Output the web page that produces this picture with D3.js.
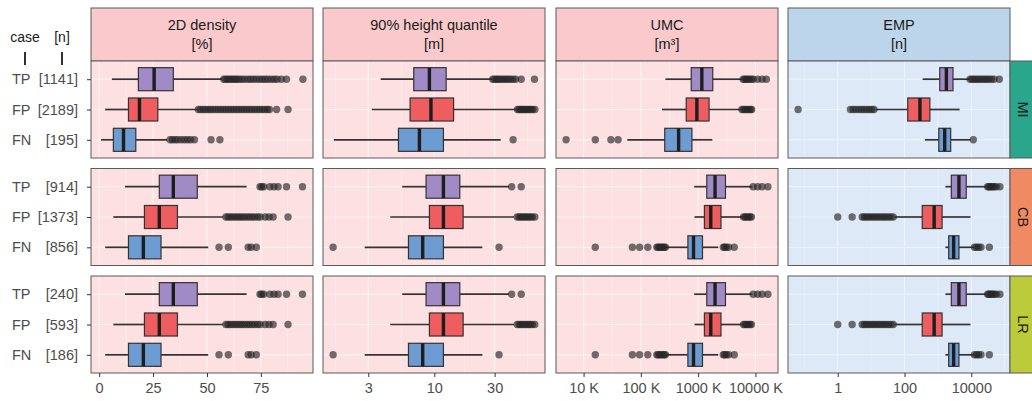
<!DOCTYPE html>
<html lang="en">
<head>
<meta charset="UTF-8">
<title>Detection metrics</title>
<script src="https://cdn.jsdelivr.net/npm/d3@7"></script>
<style>
    body { margin: 0; background: #fff; }
    svg text { font-family: "Liberation Sans", Arial, sans-serif; }
    .tick-label { font-size: 14.5px; fill: #4d4d4d; }
    .strip-label { font-size: 14.5px; fill: #1a1a1a; }
</style>
</head>
<body>
<svg id="chart" width="1032" height="401"></svg>
<script>
// facets and cases
const groups = ["MI", "CB", "LR"]
const cases = ["TP", "FP", "FN"]
const nMI = [1141, 2189, 195]
const nCB = [914, 1373, 856]
const nLR = [240, 593, 186]
const metrics = ["2D density", "90% height quantile", "UMC", "EMP"]
const units = ["[%]", "[m]", "[m³]", "[n]"]

// box stats per case (TP, FP, FN): [lower whisker, q1, median, q3, upper whisker]
// 2D density [%]
const densityMI = [[5.9, 18.2, 25.5, 34.4, 57], [2.8, 13.6, 18.7, 27.2, 45.5], [0.9, 6.6, 11.3, 17, 31.5]]
const densityMIOut = [
    [57.8, 58.6, 59.5, 60.4, 61.3, 62.2, 63.1, 64, 65, 66.2, 67.5, 69, 70.3, 71.6, 73, 74.4, 75.7, 77, 78.3, 79.8, 81.2, 82.5, 84.5, 86.9, 94.5],
    [46, 47, 48.2, 49.3, 50.5, 51.6, 52.8, 54, 55.2, 56.4, 57.6, 58.8, 60, 61.2, 62.4, 63.6, 64.8, 66, 67.2, 68.4, 69.6, 70.8, 72, 73.2, 74.4, 75.6, 76.8, 78, 79, 82.3, 87.6],
    [32.9, 34, 35.2, 36.4, 38, 39.5, 41, 42.4, 44.2, 51.9, 56]
]
const densityCB = [[12, 27.9, 34.4, 45.5, 68.4], [6.6, 21, 27.9, 36.3, 57.6], [2.8, 13.6, 20.5, 28.7, 50.6]]
const densityCBOut = [
    [74.6, 75.4, 76.3, 79.2, 81.1, 83, 86.9, 94.3],
    [58.8, 59.8, 60.8, 61.9, 63, 64.1, 65.2, 66.3, 67.4, 68.6, 69.8, 71, 72.2, 73.5, 74.7, 77, 78.8, 80.7, 87.6],
    [55.6, 59.9, 69.1, 70.5, 72.9]
]
const densityLR = [[12, 27.9, 34.4, 45.5, 68.4], [6.6, 21, 27.9, 36.3, 57.6], [2.8, 13.6, 20.5, 28.7, 50.6]]
const densityLROut = [
    [74.6, 75.4, 76.3, 79.2, 81.1, 83, 86.9, 94.3],
    [58.8, 59.8, 60.8, 61.9, 63, 64.1, 65.2, 66.3, 67.4, 68.6, 69.8, 71, 72.2, 73.5, 74.7, 77, 78.8, 80.7, 87.6],
    [55.6, 59.9, 69.1, 70.5, 72.9]
]

// 90% height quantile [m]
const heightMI = [[3.76, 6.87, 9.14, 12.4, 28.6], [3.2, 6.43, 9.4, 14.2, 45], [1.6, 5.2, 7.62, 11.8, 33.5]]
const heightMIOut = [
    [29, 30, 31, 32, 33.2, 34.5, 35.8, 37.2, 38.6, 40.2, 42, 44, 48.7, 62],
    [45.5, 46.8, 48, 49.3, 50.6, 52, 53.5, 55, 56.6, 58.2, 60, 62.5],
    [42]
]
const heightCB = [[5.57, 8.6, 11.8, 15.9, 39], [4.48, 9.14, 11.8, 16.9, 42.7], [2.81, 6.24, 8.09, 11.8, 24]]
const heightCBOut = [
    [40.9, 48.7],
    [45.3, 46.8, 48.3, 50, 51.8, 53.6, 55.5, 57.5, 59.6, 62.4],
    [1.58, 32.5]
]
const heightLR = [[5.57, 8.6, 11.8, 15.9, 39], [4.48, 9.14, 11.8, 16.9, 42.7], [2.81, 6.24, 8.09, 11.8, 24]]
const heightLROut = [
    [40.9, 48.7],
    [45.3, 46.8, 48.3, 50, 51.8, 53.6, 55.5, 57.5, 59.6, 62.4],
    [1.58, 32.5]
]

// UMC [thousand m³]
const umcMI = [[268, 757, 1159, 1798, 6000], [234, 619, 949, 1550, 5600], [58, 261, 456, 778, 1770]]
const umcMIOut = [
    [6100, 6500, 6900, 7400, 7900, 8500, 9100, 10900, 13100, 15500],
    [5800, 6200, 6600, 7100, 7600, 8200, 8600],
    [4.95, 16, 30, 40]
]
const umcCB = [[853, 1415, 1970, 3000, 8800], [863, 1286, 1660, 2500, 6000], [275, 662, 830, 1190, 2250]]
const umcCBOut = [
    [9100, 10900, 13100, 16500],
    [6200, 6600, 7000, 7500, 8000, 8500],
    [16, 71, 95, 132, 190, 200, 212, 225, 240, 255, 268, 2750, 2900, 3100, 3400, 4260]
]
const umcLR = [[853, 1415, 1970, 3000, 8800], [863, 1286, 1660, 2500, 6000], [275, 662, 830, 1190, 2250]]
const umcLROut = [
    [9100, 10900, 13100, 16500],
    [6200, 6600, 7000, 7500, 8000, 8500],
    [16, 71, 95, 132, 190, 200, 212, 225, 240, 255, 268, 2750, 2900, 3100, 3400, 4260]
]

// EMP [n]
const empMI = [[349, 1137, 1795, 2830, 8800], [13.5, 125, 290, 575, 4470], [408, 1063, 1600, 2415, 9500]]
const empMIOut = [
    [9200, 10500, 12000, 13800, 16000, 18500, 21500, 25000, 29000, 34000, 40000, 48000, 69000],
    [0.065, 2.4, 2.9, 3.5, 4.3, 5.2, 6.2, 7.4, 8.8, 10.4, 12.2],
    [11500]
]
const empCB = [[1675, 2524, 4270, 7050, 28000], [50, 340, 773, 1335, 9460], [1675, 2105, 2963, 4270, 12000]]
const empCBOut = [
    [30900, 33500, 36500, 40000, 44000, 49000, 56000, 72000],
    [1, 2.7, 5.4, 6.2, 7.1, 8.2, 9.5, 11, 12.8, 15, 17.5, 20.5, 24, 28, 33, 39, 46],
    [12450, 14500, 16500, 19500, 34700]
]
const empLR = [[1675, 2524, 4270, 7050, 28000], [50, 340, 773, 1335, 9460], [1675, 2105, 2963, 4270, 12000]]
const empLROut = [
    [30900, 33500, 36500, 40000, 44000, 49000, 56000, 72000],
    [1, 2.7, 5.4, 6.2, 7.1, 8.2, 9.5, 11, 12.8, 15, 17.5, 20.5, 24, 28, 33, 39, 46],
    [12450, 14500, 16500, 19500, 34700]
]

// tick values per column
const densityTicks = [0, 25, 50, 75]
const heightTicks = [3, 10, 30]
const umcTicks = [10, 100, 1000, 10000]
const empTicks = [1, 100, 10000]

// ---- layout / style
const svg = d3.select("#chart")
const colX = [91, 323, 556, 788]
const panelW = 222
const rowY = [61, 168.5, 276]
const panelH = 97
const headerY = 8
const headerH = 53
const boxColor = { TP: "#a18bc7", FP: "#ee5d60", FN: "#6c9cd2" }
const groupColor = { MI: "#2aa68b", CB: "#ef8a63", LR: "#bccb3a" }
const counts = { MI: nMI, CB: nCB, LR: nLR }

const columns = [
    { stats: [densityMI, densityCB, densityLR], out: [densityMIOut, densityCBOut, densityLROut], log: false, ticks: densityTicks, fmt: d => d, bg: "#fde0e1", head: "#f9c9cb", grid: "#fdf0f0" },
    { stats: [heightMI, heightCB, heightLR], out: [heightMIOut, heightCBOut, heightLROut], log: true, ticks: heightTicks, fmt: d => d, bg: "#fde0e1", head: "#f9c9cb", grid: "#fdf0f0" },
    { stats: [umcMI, umcCB, umcLR], out: [umcMIOut, umcCBOut, umcLROut], log: true, ticks: umcTicks, fmt: d => d + " K", bg: "#fde0e1", head: "#f9c9cb", grid: "#fdf0f0" },
    { stats: [empMI, empCB, empLR], out: [empMIOut, empCBOut, empLROut], log: true, ticks: empTicks, fmt: d => d, bg: "#dde9f6", head: "#bdd5eb", grid: "#ecf3fb" }
]

// x scales with ggplot-like 5% expansion (in transformed space)
columns.forEach(col => {
    const vals = []
    col.stats.forEach(s => s.forEach(b => vals.push(...b)))
    col.out.forEach(o => o.forEach(p => vals.push(...p)))
    const t = col.log ? Math.log10 : (v => v)
    const inv = col.log ? (v => Math.pow(10, v)) : (v => v)
    let lo = t(d3.min(vals)), hi = t(d3.max(vals))
    const pad = (hi - lo) * 0.05
    col.x = (col.log ? d3.scaleLog() : d3.scaleLinear())
        .domain([inv(lo - pad), inv(hi + pad)]).range([0, panelW])
    // minor breaks: midpoints between majors (transformed)
    const b = col.ticks.map(t)
    const step = b[1] - b[0]
    const ext = [b[0] - step, ...b, b[b.length - 1] + step]
    col.minor = []
    for (let i = 0; i < ext.length - 1; i++) {
        const m = (ext[i] + ext[i + 1]) / 2
        if (m > lo - pad && m < hi + pad) col.minor.push(inv(m))
    }
})

const y = d3.scalePoint().domain(cases).range([0, panelH]).padding(0.6)
const bw = y.step() * 0.76

// header strips
columns.forEach((col, c) => {
    const g = svg.append("g").attr("transform", `translate(${colX[c]},${headerY})`)
    g.append("rect").attr("width", panelW).attr("height", headerH)
        .attr("fill", col.head).attr("stroke", "#5a5a5a").attr("stroke-width", 1)
    g.append("text").attr("class", "strip-label").attr("x", panelW / 2).attr("y", 22)
        .attr("text-anchor", "middle").text(metrics[c])
    g.append("text").attr("class", "strip-label").attr("x", panelW / 2).attr("y", 41)
        .attr("text-anchor", "middle").text(units[c])
})

// panels
groups.forEach((grp, r) => {
    columns.forEach((col, c) => {
        const x = col.x
        const g = svg.append("g").attr("transform", `translate(${colX[c]},${rowY[r]})`)
        g.append("rect").attr("width", panelW).attr("height", panelH).attr("fill", col.bg)

        g.selectAll(".minor").data(col.minor).enter().append("line")
            .attr("x1", d => x(d)).attr("x2", d => x(d)).attr("y1", 0).attr("y2", panelH)
            .attr("stroke", col.grid).attr("stroke-width", 0.6)
        g.selectAll(".major").data(col.ticks).enter().append("line")
            .attr("x1", d => x(d)).attr("x2", d => x(d)).attr("y1", 0).attr("y2", panelH)
            .attr("stroke", col.grid).attr("stroke-width", 1.2)
        g.selectAll(".hgrid").data(cases).enter().append("line")
            .attr("x1", 0).attr("x2", panelW).attr("y1", d => y(d)).attr("y2", d => y(d))
            .attr("stroke", col.grid).attr("stroke-width", 1.2)

        cases.forEach((cs, i) => {
            const s = col.stats[r][i]
            const cy = y(cs)
            g.append("line").attr("x1", x(s[0])).attr("x2", x(s[1])).attr("y1", cy).attr("y2", cy)
                .attr("stroke", "#333").attr("stroke-width", 1.7)
            g.append("line").attr("x1", x(s[3])).attr("x2", x(s[4])).attr("y1", cy).attr("y2", cy)
                .attr("stroke", "#333").attr("stroke-width", 1.7)
            g.append("rect").attr("x", x(s[1])).attr("y", cy - bw / 2)
                .attr("width", x(s[3]) - x(s[1])).attr("height", bw)
                .attr("fill", boxColor[cs]).attr("stroke", "#333").attr("stroke-width", 1.2)
            g.append("line").attr("x1", x(s[2])).attr("x2", x(s[2]))
                .attr("y1", cy - bw / 2).attr("y2", cy + bw / 2)
                .attr("stroke", "#1e1e1e").attr("stroke-width", 3.4)
            g.selectAll(null).data(col.out[r][i]).enter().append("circle")
                .attr("cx", d => x(d)).attr("cy", cy).attr("r", 3.7)
                .attr("fill", "#262626").attr("fill-opacity", 0.65)
        })

        g.append("rect").attr("width", panelW).attr("height", panelH)
            .attr("fill", "none").attr("stroke", "#5a5a5a").attr("stroke-width", 1)

        // bottom axis on last row
        if (r === groups.length - 1) {
            const ax = g.append("g").attr("transform", `translate(0,${panelH})`)
                .call(d3.axisBottom(x).tickValues(col.ticks).tickFormat(col.fmt).tickSize(4).tickPadding(6))
            ax.select(".domain").remove()
            ax.selectAll("line").attr("stroke", "#333")
            ax.selectAll("text").attr("class", "tick-label").attr("font-size", null).attr("font-family", null)
        }
        // left axis on first column
        if (c === 0) {
            const ay = g.append("g").call(d3.axisLeft(y).tickFormat("").tickSize(4))
            ay.select(".domain").remove()
            ay.selectAll("line").attr("stroke", "#333")
            cases.forEach((cs, i) => {
                svg.append("text").attr("class", "tick-label")
                    .attr("x", 12).attr("y", rowY[r] + y(cs) + 5).text(cs)
                svg.append("text").attr("class", "tick-label").attr("text-anchor", "end")
                    .attr("x", 78).attr("y", rowY[r] + y(cs) + 5).text(`[${counts[grp][i]}]`)
            })
        }
    })

    // right strip
    const sx = colX[3] + panelW
    const sg = svg.append("g").attr("transform", `translate(${sx},${rowY[r]})`)
    sg.append("rect").attr("width", 26).attr("height", panelH)
        .attr("fill", groupColor[grp]).attr("stroke", "#5a5a5a").attr("stroke-width", 1)
    sg.append("text").attr("class", "strip-label")
        .attr("transform", `translate(${8},${panelH / 2}) rotate(90)`)
        .attr("text-anchor", "middle").text(grp)
})

// case / [n] legend at top left
const legend = [["case", 25], ["[n]", 62]]
legend.forEach(([lab, lx]) => {
    svg.append("text").attr("x", lx).attr("y", 42).attr("text-anchor", "middle")
        .attr("font-size", "14px").attr("fill", "#1a1a1a").text(lab)
    svg.append("line").attr("x1", lx).attr("x2", lx).attr("y1", 52).attr("y2", 65)
        .attr("stroke", "#1a1a1a").attr("stroke-width", 1.8)
})
</script>
</body>
</html>
